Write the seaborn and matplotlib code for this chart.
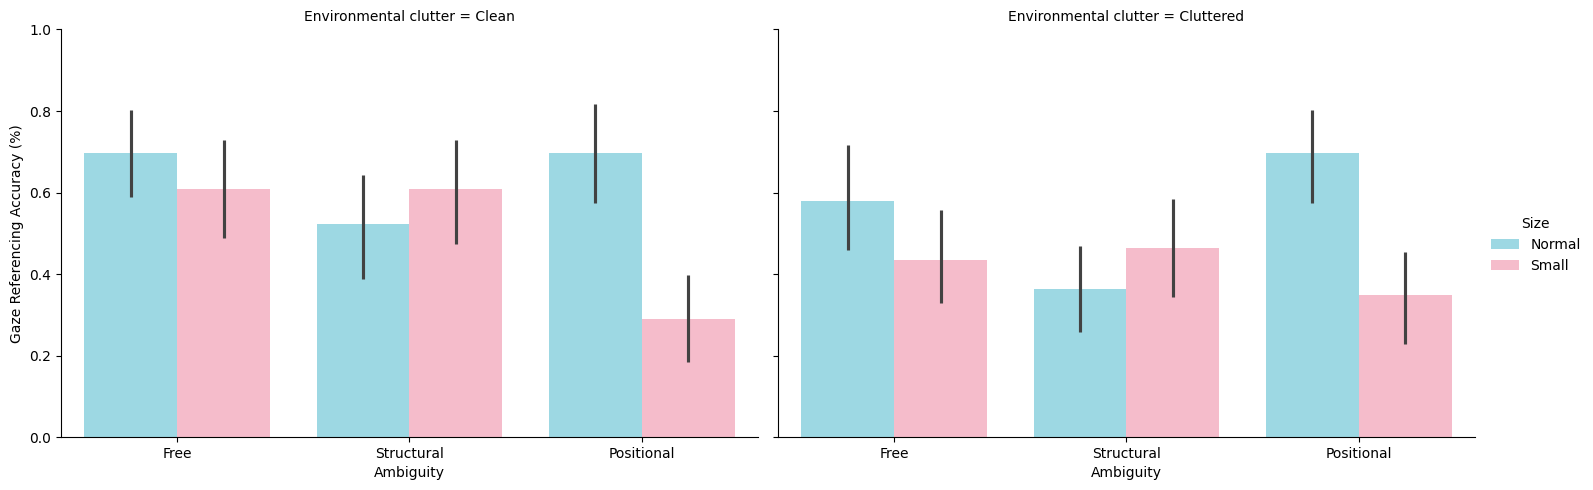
import pandas as pd
import matplotlib
matplotlib.use("Agg")
import matplotlib.pyplot as plt
import seaborn as sns

# data (mean and 95% CI per bar)
clutter = ["Clean"] * 6 + ["Cluttered"] * 6
ambiguity = ["Free", "Free", "Structural", "Structural", "Positional", "Positional"] * 2
size = ["Normal", "Small"] * 6
accuracy = [0.697, 0.609, 0.523, 0.609, 0.697, 0.290,
            0.579, 0.434, 0.363, 0.464, 0.697, 0.348]
ci_low = [0.590, 0.489, 0.389, 0.474, 0.575, 0.185,
          0.460, 0.330, 0.259, 0.344, 0.575, 0.229]
ci_high = [0.802, 0.728, 0.642, 0.728, 0.816, 0.398,
           0.716, 0.556, 0.468, 0.583, 0.802, 0.453]

df = pd.DataFrame({
    "Environmental clutter": clutter,
    "Ambiguity": ambiguity,
    "Size": size,
    "Gaze Referencing Accuracy (%)": accuracy,
    "lo": ci_low,
    "hi": ci_high,
})

amb_order = ["Free", "Structural", "Positional"]
size_order = ["Normal", "Small"]
palette = {"Normal": "#9dd8e3", "Small": "#f5bccb"}

g = sns.catplot(
    data=df, kind="bar",
    x="Ambiguity", y="Gaze Referencing Accuracy (%)",
    hue="Size", col="Environmental clutter",
    order=amb_order, hue_order=size_order,
    palette=palette, saturation=1, errorbar=None,
    height=4.5, aspect=1.5,
)

# error bars, matched to bars by position
for col_name, ax in zip(["Clean", "Cluttered"], g.axes.flat):
    xlim = ax.get_xlim()
    sub = df[df["Environmental clutter"] == col_name].copy()
    sub["a"] = sub["Ambiguity"].map(amb_order.index)
    sub["s"] = sub["Size"].map(size_order.index)
    sub = sub.sort_values(["a", "s"])
    bars = sorted([p for p in ax.patches if p.get_height() > 0],
                  key=lambda p: p.get_x())
    for p, (_, row) in zip(bars, sub.iterrows()):
        xc = p.get_x() + p.get_width() / 2
        ax.plot([xc, xc], [row["lo"], row["hi"]], color=".26", lw=2.25,
                solid_capstyle="butt")
    ax.set_xlim(xlim)

g.set(ylim=(0, 1))
g.set_titles("Environmental clutter = {col_name}")

fig = g.figure
fig.set_size_inches(15.93, 4.9)
fig.subplots_adjust(left=0.0383, right=0.9259, bottom=0.108, top=0.9398, wspace=0.0287)
sns.move_legend(g, "center right", bbox_to_anchor=(1.0, 0.5))

plt.savefig("out.png", dpi=100)
